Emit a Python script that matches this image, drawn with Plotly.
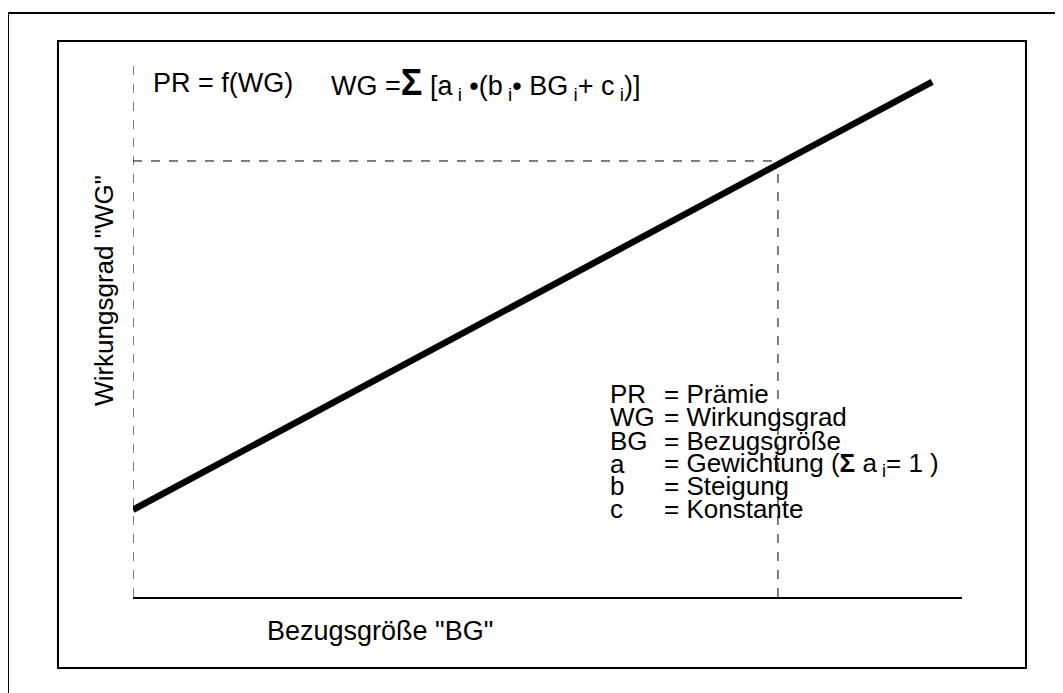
import plotly.graph_objects as go

# Bezugsgroesse (BG) and Wirkungsgrad (WG) of the straight line
bg = [0, 9.64]
wg = [1.63, 9.63]

# marked point on the line
bg_mark = 7.78
wg_mark = 8.15

# legend rows: key, meaning
keys = ["PR", "WG", "BG", "a", "b", "c"]
meanings = ["= Prämie", "= Wirkungsgrad", "= Bezugsgröße",
            "= Gewichtung (<b>Σ</b> a<sub> i</sub>= 1 )", "= Steigung", "= Konstante"]
row_y = [3.80, 3.36, 2.91, 2.48, 2.07, 1.64]

font = "Liberation Sans, Arial, sans-serif"

fig = go.Figure()

# dashed y axis
fig.add_trace(go.Scatter(x=[0, 0], y=[0, 10], mode="lines",
                         line=dict(color="black", width=1, dash="dash")))
# dashed helper lines to the marked point
fig.add_trace(go.Scatter(x=[0, bg_mark], y=[wg_mark, wg_mark], mode="lines",
                         line=dict(color="black", width=1, dash="dash")))
fig.add_trace(go.Scatter(x=[bg_mark, bg_mark], y=[0, wg_mark], mode="lines",
                         line=dict(color="black", width=1, dash="dash")))
# the thick line
fig.add_trace(go.Scatter(x=bg, y=wg, mode="lines",
                         line=dict(color="black", width=6.5)))

# formulas at the top
fig.add_annotation(x=0.22, y=9.6, xanchor="left", yanchor="middle", showarrow=False,
                   text="PR = f(WG)", font=dict(size=27))
fig.add_annotation(x=2.37, y=9.6, xanchor="left", yanchor="middle", showarrow=False,
                   text="WG =<span style='font-size:36px'><b>Σ</b></span> [a<sub> i</sub> •(b<sub> i</sub>• BG<sub> i</sub>+ c<sub> i</sub>)]",
                   font=dict(size=27))

# legend block
for k, m, yy in zip(keys, meanings, row_y):
    fig.add_annotation(x=5.73, y=yy, xanchor="left", yanchor="middle", showarrow=False,
                       text=k, font=dict(size=26))
    fig.add_annotation(x=6.38, y=yy, xanchor="left", yanchor="middle", showarrow=False,
                       text=m, font=dict(size=26))

# axis titles
fig.add_annotation(xref="paper", x=-0.035, y=5.74, xanchor="center", yanchor="middle",
                   textangle=-90, showarrow=False,
                   text='Wirkungsgrad "WG"', font=dict(size=26))
fig.add_annotation(xref="x", yref="paper", x=2.98, y=-0.064, xanchor="center",
                   yanchor="middle", showarrow=False,
                   text='Bezugsgröße "BG"', font=dict(size=27))

# frames
fig.add_shape(type="rect", xref="paper", yref="paper",
              x0=-0.0905, x1=1.0772, y0=-0.1327, y1=1.0393,
              line=dict(color="black", width=2))
fig.add_shape(type="rect", xref="paper", yref="paper",
              x0=-0.1508, x1=1.3, y0=-0.3, y1=1.0916,
              line=dict(color="black", width=2))

fig.update_xaxes(range=[0, 10], showgrid=False, zeroline=False, showticklabels=False,
                 ticks="", showline=True, linecolor="black", linewidth=1.5)
fig.update_yaxes(range=[0, 10], showgrid=False, zeroline=False, showticklabels=False,
                 ticks="", showline=False)
# page body has an 8px margin, so the figure is 8px smaller on each side
fig.update_layout(width=1055, height=685, showlegend=False,
                  margin=dict(l=125, r=101, t=54, b=96),
                  plot_bgcolor="white", paper_bgcolor="white",
                  font=dict(family=font, color="black"), hovermode=False)

fig.write_html("out.html")
